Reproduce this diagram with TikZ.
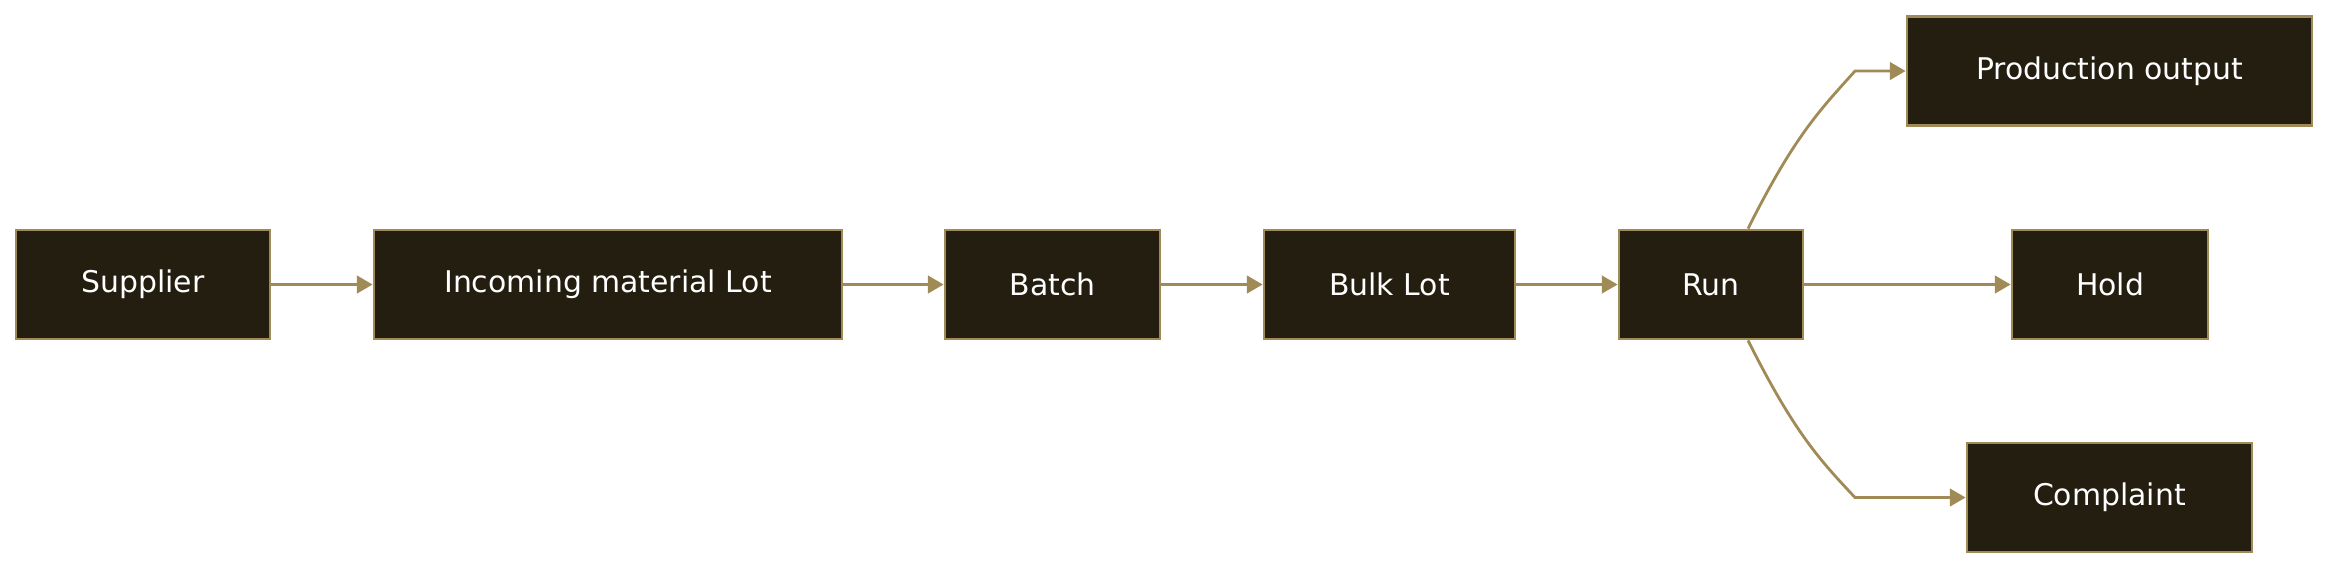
\documentclass[tikz,border=0pt]{standalone}
\usepackage{fontspec}
\setmainfont{DejaVu Sans}
\usetikzlibrary{arrows.meta, positioning, calc}
\definecolor{boxfill}{HTML}{231E10}
\definecolor{boxline}{HTML}{A08A55}
\begin{document}
\begin{tikzpicture}[
  block/.style = {draw=boxline, fill=boxfill, text=white, line width=0.8pt, minimum height=1.09cm, inner sep=0pt, font=\fontsize{8.5}{10}\selectfont},
  arrow/.style = {draw=boxline, line width=0.8pt, -{Triangle[length=4.5pt,width=5pt]}}
]
  \useasboundingbox (0,0) rectangle (23.52,-5.76);

  % Main chain
  \node[block, minimum width=2.54cm] (supplier) at (1.43,-2.845) {Supplier};
  \node[block, minimum width=4.68cm] (lot) at (6.08,-2.845) {Incoming material Lot};
  \node[block, minimum width=2.15cm] (batch) at (10.525,-2.845) {Batch};
  \node[block, minimum width=2.51cm] (bulk) at (13.895,-2.845) {Bulk Lot};
  \node[block, minimum width=1.84cm] (run) at (17.11,-2.845) {Run};

  % Outcomes
  \node[block, minimum width=4.05cm] (output) at (21.095,-0.71) {Production output};
  \node[block, minimum width=1.96cm] (hold) at (21.10,-2.845) {Hold};
  \node[block, minimum width=2.85cm] (complaint) at (21.095,-4.975) {Complaint};

  \draw[arrow] (supplier) -- (lot);
  \draw[arrow] (lot) -- (batch);
  \draw[arrow] (batch) -- (bulk);
  \draw[arrow] (bulk) -- (run);
  \draw[arrow] (run) -- (hold);
  \draw[arrow] ($(run.north)+(0.37,0)$) .. controls (17.95,-1.35) and (18.2,-1.1) .. (18.55,-0.71) -- (output.west);
  \draw[arrow] ($(run.south)+(0.37,0)$) .. controls (17.95,-4.34) and (18.2,-4.6) .. (18.55,-4.975) -- (complaint.west);
\end{tikzpicture}
\end{document}
